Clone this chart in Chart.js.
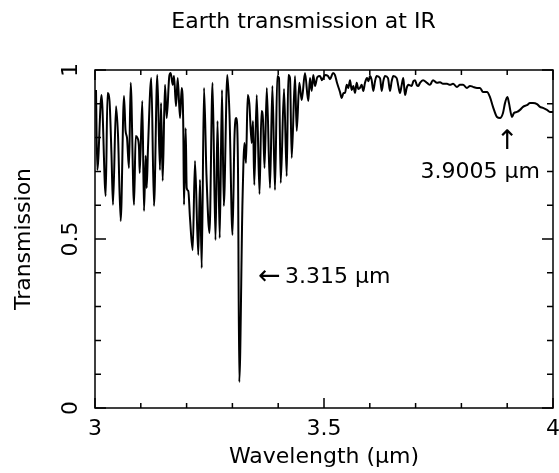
<!DOCTYPE html>
<html>
<head>
<meta charset="utf-8">
<script src="https://cdn.jsdelivr.net/npm/chart.js@4/dist/chart.umd.min.js"></script>
<style>
  body { margin: 0; background: #fff; }
  #box { width: 559px; height: 473px; }
</style>
</head>
<body>
<div id="box"><canvas id="ir-chart" width="559" height="473"></canvas></div>
<script>
// values
var wavelength = [
  3.0022, 3.0050, 3.0142, 3.0234, 3.0273, 3.0317, 3.0360, 3.0393, 3.0459, 3.0502,
  3.0561, 3.0633, 3.0666, 3.0699, 3.0742, 3.0779, 3.0852, 3.0889, 3.0928, 3.0961,
  3.0976, 3.1033, 3.1070, 3.1107, 3.1129, 3.1157, 3.1229, 3.1288, 3.1360, 3.1419,
  3.1441, 3.1478, 3.1528, 3.1566, 3.1622, 3.1653, 3.1697, 3.1725, 3.1769, 3.1806,
  3.1856, 3.1893, 3.1928, 3.1943, 3.1980, 3.2002, 3.2037, 3.2074, 3.2133, 3.2183,
  3.2255, 3.2293, 3.2330, 3.2380, 3.2434, 3.2500, 3.2566, 3.2631, 3.2675, 3.2723,
  3.2773, 3.2812, 3.2889, 3.2937, 3.3002, 3.3046, 3.3085, 3.3122, 3.3150, 3.3221,
  3.3264, 3.3297, 3.3334, 3.3369, 3.3421, 3.3450, 3.3478, 3.3531, 3.3592, 3.3635,
  3.3668, 3.3701, 3.3751, 3.3821, 3.3873, 3.3930, 3.3980, 3.4017, 3.4055, 3.4127,
  3.4186, 3.4221, 3.4258, 3.4295, 3.4367, 3.4404, 3.4461, 3.4513, 3.4585, 3.4657,
  3.4694, 3.4731, 3.4766, 3.4803, 3.4854, 3.4913, 3.4956, 3.5022, 3.5087, 3.5131,
  3.5197, 3.5240, 3.5284, 3.5349, 3.5386, 3.5426, 3.5459, 3.5496, 3.5531, 3.5568,
  3.5605, 3.5640, 3.5677, 3.5714, 3.5749, 3.5786, 3.5823, 3.5858, 3.5895, 3.5939,
  3.5972, 3.6004, 3.6041, 3.6076, 3.6114, 3.6151, 3.6223, 3.6260, 3.6295, 3.6332,
  3.6397, 3.6441, 3.6478, 3.6513, 3.6587, 3.6622, 3.6659, 3.6697, 3.6731, 3.6769,
  3.6806, 3.6841, 3.6915, 3.6950, 3.6987, 3.7024, 3.7059, 3.7096, 3.7162, 3.7249,
  3.7314, 3.7380, 3.7467, 3.7533, 3.7598, 3.7686, 3.7751, 3.7817, 3.7904, 3.7969,
  3.8035, 3.8122, 3.8188, 3.8253, 3.8341, 3.8406, 3.8472, 3.8559, 3.8624, 3.8690,
  3.8777, 3.8843, 3.8908, 3.8952, 3.9005, 3.9039, 3.9105, 3.9148, 3.9214, 3.9279,
  3.9345, 3.9432, 3.9498, 3.9563, 3.9651, 3.9716, 3.9782, 3.9869, 3.9934, 4.0000
];
var transmission = [
  0.941, 0.704, 0.926, 0.627, 0.932, 0.908, 0.749, 0.601, 0.893, 0.808,
  0.553, 0.923, 0.822, 0.799, 0.710, 0.962, 0.601, 0.805, 0.799, 0.769,
  0.695, 0.908, 0.583, 0.746, 0.651, 0.769, 0.976, 0.598, 0.985, 0.704,
  0.902, 0.672, 0.956, 0.858, 0.982, 0.991, 0.956, 0.982, 0.893, 0.976,
  0.858, 0.947, 0.828, 0.601, 0.828, 0.651, 0.642, 0.562, 0.467, 0.731,
  0.453, 0.675, 0.414, 0.947, 0.689, 0.518, 0.962, 0.497, 0.849, 0.503,
  0.941, 0.598, 0.985, 0.867, 0.512, 0.805, 0.858, 0.710, 0.077, 0.615,
  0.784, 0.725, 0.926, 0.902, 0.784, 0.849, 0.660, 0.926, 0.633, 0.879,
  0.852, 0.710, 0.947, 0.651, 0.953, 0.645, 0.982, 0.976, 0.666, 0.944,
  0.686, 0.985, 0.976, 0.740, 0.982, 0.820, 0.962, 0.911, 0.991, 0.908,
  0.976, 0.938, 0.985, 0.953, 0.979, 0.982, 0.970, 0.985, 0.982, 0.973,
  0.991, 0.985, 0.962, 0.935, 0.917, 0.932, 0.932, 0.956, 0.947, 0.970,
  0.941, 0.953, 0.932, 0.962, 0.944, 0.947, 0.956, 0.938, 0.962, 0.976,
  0.967, 0.982, 0.970, 0.938, 0.967, 0.982, 0.976, 0.938, 0.967, 0.982,
  0.976, 0.938, 0.967, 0.982, 0.976, 0.953, 0.932, 0.956, 0.976, 0.926,
  0.947, 0.956, 0.953, 0.967, 0.970, 0.956, 0.953, 0.962, 0.970, 0.962,
  0.956, 0.970, 0.962, 0.964, 0.959, 0.959, 0.956, 0.959, 0.950, 0.956,
  0.956, 0.947, 0.953, 0.950, 0.947, 0.947, 0.935, 0.935, 0.920, 0.891,
  0.861, 0.858, 0.873, 0.902, 0.920, 0.902, 0.861, 0.873, 0.876, 0.882,
  0.891, 0.896, 0.902, 0.902, 0.899, 0.891, 0.888, 0.882, 0.876, 0.876
];

var xTickLabels = ['3', '3.5', '4'];
var yTickLabels = ['0', '0.5', '1'];

var titleText = 'Earth transmission at IR';
var xTitle = 'Wavelength (\u03bcm)';
var yTitle = 'Transmission';

// line labels: left arrow at the 3.315 dip, up arrow under the 3.9005 bump
var noteLeftX = 3.356, noteLeftY = 0.37;
var noteUpX = 3.9005, noteUpY = 0.765;
var noteUpTextX = 3.9716, noteUpTextY = 0.680;

var FONT = 'DejaVu Sans';

var points = [];
for (var i = 0; i < wavelength.length; i++) {
  points.push({ x: wavelength[i], y: transmission[i] });
}

// frame with inward ticks on all four sides, plus title and the notes
var pgFrame = {
  id: 'pgFrame',
  afterDraw: function(chart) {
    var ctx = chart.ctx;
    var a = chart.chartArea;
    var xs = chart.scales.x, ys = chart.scales.y;
    var k, px, py, len;

    ctx.save();
    ctx.strokeStyle = '#000';
    ctx.lineWidth = 1.5;
    ctx.strokeRect(a.left, a.top, a.right - a.left, a.bottom - a.top);

    ctx.beginPath();
    for (k = 0; k <= 10; k++) {
      px = xs.getPixelForValue(3 + k / 10);
      len = (k % 5 === 0) ? 10 : 5;
      ctx.moveTo(px, a.bottom); ctx.lineTo(px, a.bottom - len);
      ctx.moveTo(px, a.top); ctx.lineTo(px, a.top + len);
    }
    for (k = 0; k <= 10; k++) {
      py = ys.getPixelForValue(k / 10);
      len = (k % 5 === 0) ? 11 : 6;
      ctx.moveTo(a.left, py); ctx.lineTo(a.left + len, py);
      ctx.moveTo(a.right, py); ctx.lineTo(a.right - len, py);
    }
    ctx.stroke();

    ctx.fillStyle = '#000';
    ctx.font = '22px "' + FONT + '"';
    ctx.textBaseline = 'alphabetic';
    ctx.textAlign = 'center';
    ctx.fillText(titleText, 303.5, 28);

    // 3.315 um note
    var lx = xs.getPixelForValue(noteLeftX);
    var ly = ys.getPixelForValue(noteLeftY);
    ctx.textAlign = 'left';
    ctx.fillText('3.315 \u03bcm', lx + 27, ly);
    ctx.font = '27px "' + FONT + '"';
    ctx.fillText('\u2190', lx, ly + 1);

    // 3.9005 um note
    ctx.textAlign = 'center';
    ctx.fillText('\u2191', xs.getPixelForValue(noteUpX), ys.getPixelForValue(noteUpY));
    ctx.font = '22px "' + FONT + '"';
    ctx.textAlign = 'right';
    ctx.fillText('3.9005 \u03bcm', xs.getPixelForValue(noteUpTextX), ys.getPixelForValue(noteUpTextY));
    ctx.restore();
  }
};

Chart.defaults.font.family = FONT;
Chart.defaults.font.size = 22;
Chart.defaults.color = '#000';

var ctx = document.getElementById('ir-chart');

var chart = new Chart(ctx, {
  type: 'line',
  data: {
    datasets: [
      {
        label: 'Transmission',
        data: points,
        borderColor: '#000',
        borderWidth: 2,
        pointRadius: 0,
        cubicInterpolationMode: 'monotone',
        fill: false
      }
    ]
  },
  options: {
    responsive: false,
    animation: false,
    layout: { padding: { left: 0, right: 6, top: 70, bottom: 0 } },
    plugins: {
      legend: { display: false },
      tooltip: { enabled: false }
    },
    scales: {
      x: {
        type: 'linear',
        min: 3,
        max: 4,
        grid: { display: false, drawTicks: false },
        border: { display: false },
        ticks: {
          stepSize: 0.5, padding: 8, maxRotation: 0,
          callback: function(value, index) { return xTickLabels[index]; }
        },
        title: { display: true, text: xTitle, padding: { top: 0, bottom: 3 } },
        afterFit: function(scale) {
          scale.height = 65;
          scale.paddingLeft = 0;
          scale.paddingRight = 0;
        }
      },
      y: {
        min: 0,
        max: 1,
        grid: { display: false, drawTicks: false },
        border: { display: false },
        ticks: {
          stepSize: 0.5, padding: 6, minRotation: 90, maxRotation: 90, crossAlign: 'center',
          callback: function(value, index) { return yTickLabels[index]; }
        },
        title: { display: true, text: yTitle, padding: { top: 11, bottom: 0 } },
        afterFit: function(scale) {
          scale.width = 95;
          scale.paddingTop = 0;
          scale.paddingBottom = 0;
        }
      }
    }
  },
  plugins: [pgFrame]
});
</script>
</body>
</html>
